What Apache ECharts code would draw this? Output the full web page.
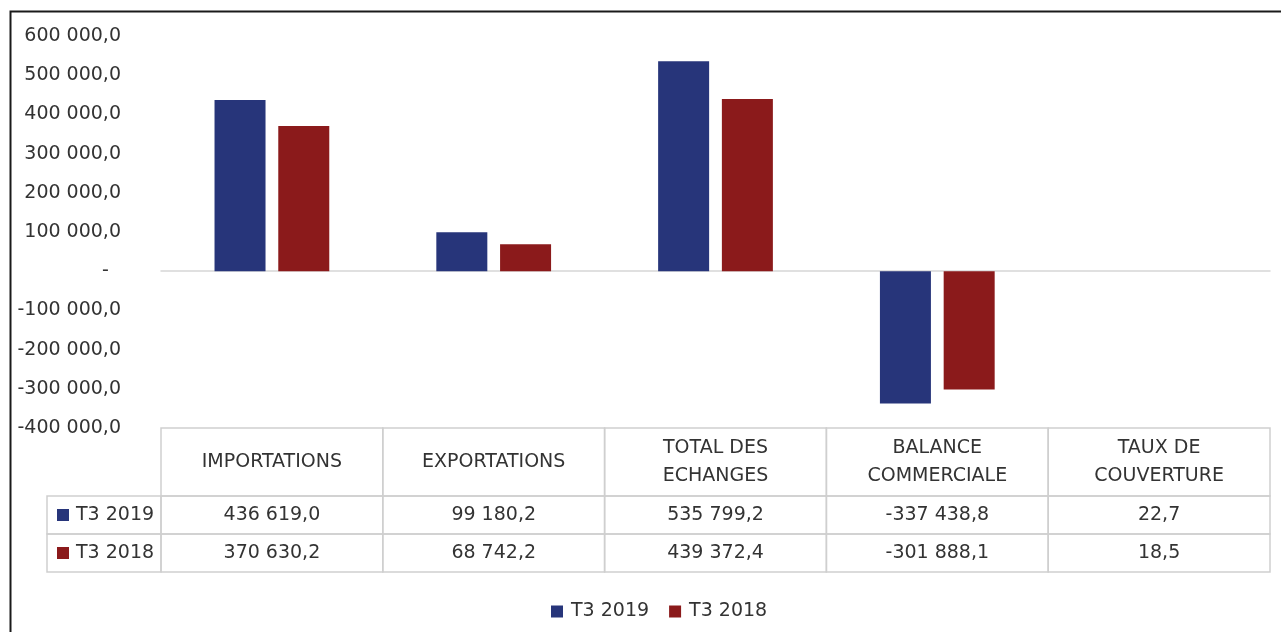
<!DOCTYPE html>
<html>
<head>
<meta charset="utf-8">
<script src="https://cdn.jsdelivr.net/npm/echarts@6/dist/echarts.min.js"></script>
<style>
  html, body { margin: 0; padding: 0; background: #fff; }
  #main { width: 1281px; height: 632px; }
</style>
</head>
<body>
<div id="main"></div>
<script>
// categories (table header, \n = line break)
const categories = [
  "IMPORTATIONS",
  "EXPORTATIONS",
  "TOTAL DES\nECHANGES",
  "BALANCE\nCOMMERCIALE",
  "TAUX DE\nCOUVERTURE",
];
const seriesNames = ["T3 2019", "T3 2018"];
const t3_2019 = [436619.0, 99180.2, 535799.2, -337438.8, 22.7];
const t3_2018 = [370630.2, 68742.2, 439372.4, -301888.1, 18.5];
const yTicks = [-400000, -300000, -200000, -100000, 0, 100000, 200000, 300000, 400000, 500000, 600000];

const colors = ["#27357a", "#8b1a1b"];
const textColor = "#333333";
const lineColor = "#cfcfcf";
const fontFamily = "DejaVu Sans";
const fontSize = 19;

// "436 619,0" style
const fmt = (v) => {
  const s = Math.abs(v).toFixed(1).split(".");
  const int = s[0].replace(/\B(?=(\d{3})+(?!\d))/g, " ");
  return (v < 0 ? "-" : "") + int + "," + s[1];
};

const headerH = 68;
const rowH = 38;
const legendColLeft = 47;

const chart = echarts.init(document.getElementById("main"));

const rowValues = [t3_2019, t3_2018];

const renderTable = (params, api) => {
  const i = api.value(0);
  const center = api.coord([i, 0]);
  const bw = api.size([1, 0])[0];
  const x0 = center[0] - bw / 2;
  const top = params.coordSys.y + params.coordSys.height;
  const lineStyle = { stroke: lineColor, fill: null, lineWidth: 1.5 };
  const children = [];

  // header cell
  children.push({ type: "rect", shape: { x: x0, y: top, width: bw, height: headerH }, style: lineStyle, silent: true });
  children.push({
    type: "text",
    style: {
      text: categories[i], x: center[0], y: top + headerH / 2,
      align: "center", verticalAlign: "middle",
      fill: textColor, font: fontSize + "px " + fontFamily, lineHeight: 28,
    },
    silent: true,
  });

  rowValues.forEach((vals, r) => {
    const y = top + headerH + r * rowH;
    children.push({ type: "rect", shape: { x: x0, y: y, width: bw, height: rowH }, style: lineStyle, silent: true });
    children.push({
      type: "text",
      style: {
        text: fmt(vals[i]), x: center[0], y: y + rowH / 2,
        align: "center", verticalAlign: "middle",
        fill: textColor, font: fontSize + "px " + fontFamily,
      },
      silent: true,
    });
    // legend keys column on the left
    if (i === 0) {
      children.push({ type: "rect", shape: { x: legendColLeft, y: y, width: x0 - legendColLeft, height: rowH }, style: lineStyle, silent: true });
      children.push({ type: "rect", shape: { x: legendColLeft + 10, y: y + rowH / 2 - 6, width: 12, height: 12 }, style: { fill: colors[r] }, silent: true });
      children.push({
        type: "text",
        style: {
          text: seriesNames[r], x: legendColLeft + 29, y: y + rowH / 2,
          align: "left", verticalAlign: "middle",
          fill: textColor, font: fontSize + "px " + fontFamily,
        },
        silent: true,
      });
    }
  });

  return { type: "group", children: children };
};

const option = {
  backgroundColor: "#fff",
  animation: false,
  textStyle: { fontFamily: fontFamily },
  graphic: [
    {
      type: "polyline",
      shape: { points: [[10.5, 700], [10.5, 11.5], [1300, 11.5]] },
      style: { stroke: "#1a1a1a", lineWidth: 2, fill: null },
      silent: true,
    },
  ],
  grid: { left: 161, right: 11, top: 36, bottom: 204, containLabel: false },
  legend: {
    data: seriesNames,
    left: 546,
    top: 597,
    icon: "rect",
    itemWidth: 12,
    itemHeight: 12,
    itemGap: 20,
    textStyle: { color: textColor, fontSize: fontSize, fontFamily: fontFamily, padding: [0, 0, 0, 3] },
  },
  xAxis: {
    type: "category",
    data: categories,
    axisLine: { show: true, onZero: true, lineStyle: { color: "#d6d6d6", width: 1.5 } },
    axisTick: { show: false },
    axisLabel: { show: false },
    splitLine: { show: false },
  },
  yAxis: {
    type: "value",
    min: yTicks[0],
    max: yTicks[yTicks.length - 1],
    interval: 100000,
    axisLine: { show: false },
    axisTick: { show: false },
    splitLine: { show: false },
    axisLabel: {
      margin: 40,
      color: textColor,
      fontSize: fontSize,
      fontFamily: fontFamily,
      formatter: (v) => (v === 0 ? "-  " : fmt(v)),
    },
  },
  series: [
    {
      name: seriesNames[0],
      type: "bar",
      data: t3_2019,
      barWidth: 51,
      barGap: "25%",
      itemStyle: { color: colors[0] },
    },
    {
      name: seriesNames[1],
      type: "bar",
      data: t3_2018,
      barWidth: 51,
      barGap: "25%",
      itemStyle: { color: colors[1] },
    },
    {
      name: "table",
      type: "custom",
      data: categories.map((c, i) => [i, 0]),
      renderItem: renderTable,
      clip: false,
      silent: true,
      z: 5,
    },
  ],
};

chart.setOption(option);
</script>
</body>
</html>
